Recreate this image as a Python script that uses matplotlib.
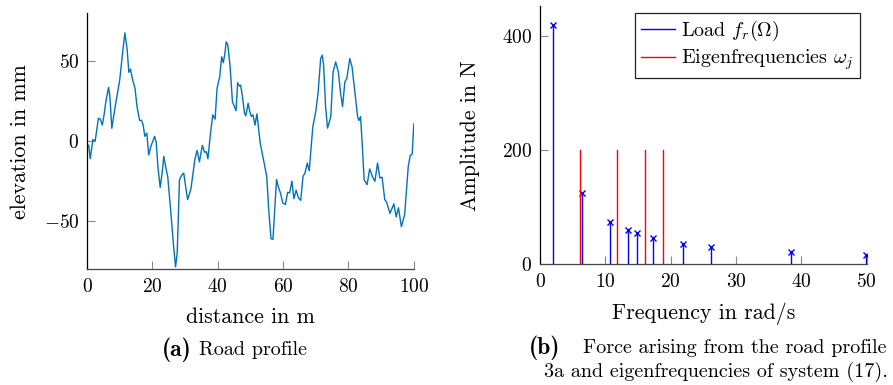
import matplotlib
matplotlib.use("Agg")
import matplotlib.pyplot as plt

plt.rcParams['font.family'] = 'serif'
plt.rcParams['font.serif'] = ['cmr10', 'DejaVu Serif']
plt.rcParams['mathtext.fontset'] = 'cm'
plt.rcParams['axes.formatter.use_mathtext'] = True
plt.rcParams['font.size'] = 11

# road profile (a)
distance = [0, 0.5, 1.0, 1.8, 2.5, 3.0, 3.5, 4.1, 4.7, 5.2, 5.8, 6.6, 7.0, 7.6, 8.2, 9.0,
            10.0, 11.0, 11.6, 12.3, 12.8, 13.3, 14.0, 14.7, 15.3, 16.1, 16.7, 17.2, 17.7,
            18.3, 18.9, 19.6, 20.7, 21.2, 21.7, 22.4, 23.1, 23.5, 24.2, 24.7, 25.5, 26.5,
            27.1, 27.6, 28.3, 29.1, 29.6, 30.3, 30.8, 31.8, 33.0, 33.7, 34.4, 35.3, 36.0,
            36.5, 37.0, 37.8, 38.5, 39.2, 39.8, 40.6, 41.2, 41.7, 42.2, 42.6, 43.1, 43.8,
            44.5, 45.1, 45.6, 46.1, 46.6, 47.0, 47.5, 48.2, 48.6, 49.3, 49.8, 50.3, 50.8,
            51.4, 52.0, 53.0, 54.0, 55.0, 55.6, 56.3, 56.9, 57.4, 58.0, 58.6, 59.2, 59.9,
            60.7, 61.4, 62.0, 62.7, 63.3, 64.0, 64.7, 65.4, 66.1, 66.7, 67.4, 68.0, 69.1,
            70.0, 70.7, 71.5, 72.0, 72.4, 73.0, 73.6, 74.6, 75.3, 76.1, 76.9, 77.6, 78.2,
            78.9, 79.5, 80.4, 81.1, 82.0, 82.8, 83.2, 83.7, 84.2, 84.8, 85.7, 86.5, 87.3,
            88.1, 88.9, 89.6, 90.3, 91.1, 91.7, 92.7, 93.9, 94.6, 95.3, 96.2, 97.2, 98.3,
            98.9, 99.5, 100.0]
elevation = [-4, -2.5, -11, 1, 0, 7, 14.3, 13.7, 10, 16, 25, 33.6, 28, 8, 16, 26,
             38, 57, 67.6, 57, 43, 45, 38, 33, 21.6, 12.9, 13, 10, 3,
             5, -8.7, -3, 3, -1, -16, -29, -18, -9.5, -17.4, -22, -40.7, -65.6,
             -78.6, -70, -24, -21, -20, -30, -36.5, -30, -11.6, -5.8, -13, -2.7, -7,
             -6.6, -11, 5, 16.4, 13.7, 33, 40, 52.7, 49, 54.8, 62, 60, 46.5,
             24.7, 21.6, 19, 36.5, 34.4, 35, 28.8, 17.4, 15.8, 23.7, 18.5, 15.4, 16.4,
             10, 17, -1.2, -11.6, -22, -42.7, -61, -61.4, -44.8, -24, -29, -32.4, -38.6,
             -39.6, -32, -32.4, -25, -36, -30.7, -35.5, -37, -22, -20, -13.7, -18.5, 9,
             18.5, 30, 51.7, 53.7, 47.5, 21.6, 8.1, 15.3, 43.3, 49.5, 43.3, 29.9, 21.5,
             37, 39.1, 51.6, 46.4, 29.9, 15.3, 12.8, 15.3, -1.2, -24.1, -27.2, -17.4, -22,
             -25.1, -13.7, -23, -22.6, -36.5, -38.2, -45.2, -39.2, -47.3, -41.7, -53.5, -45.9, -15.8,
             -9, -8.1, 10.8]

# spectrum (b)
load_freq = [1.94, 6.48, 10.77, 13.42, 14.85, 17.30, 21.94, 26.12, 38.47, 49.85]
load_amp = [418.7, 124.2, 74.6, 60.1, 54.2, 46.1, 36.2, 30.9, 21.0, 15.7]
eig_freq = [6.17, 11.73, 16.02, 18.78]
eig_amp = [200, 200, 200, 200]

LABEL_FS = 15.8
TICK_FS = 14
CAP_FS = 14.5


def style_axis(ax):
    ax.spines['top'].set_visible(False)
    ax.spines['right'].set_visible(False)
    ax.spines['left'].set_linewidth(0.9)
    ax.spines['bottom'].set_linewidth(0.9)
    ax.spines['bottom'].set_color('#444444')
    ax.tick_params(direction='in', length=5.5, width=0.8, color='#888888',
                   labelsize=TICK_FS)
    ax.tick_params(axis='y', pad=5.5)
    ax.tick_params(axis='x', pad=6.5)


fig = plt.figure(figsize=(8.93, 3.85), dpi=100)

ax1 = fig.add_axes([0.0974, 0.301, 0.366, 0.665])
ax1.plot(distance, elevation, color='#0072BD', linewidth=1.0)
ax1.set_xlim(0, 100)
ax1.set_ylim(-80, 80)
ax1.set_xticks([0, 20, 40, 60, 80, 100])
ax1.set_yticks([-50, 0, 50])
ax1.set_xlabel('distance in m', fontsize=LABEL_FS, labelpad=8)
ax1.set_ylabel('elevation in mm', fontsize=LABEL_FS, labelpad=10)
style_axis(ax1)

ax2 = fig.add_axes([0.6047, 0.3135, 0.366, 0.670])
for f, a in zip(load_freq, load_amp):
    ax2.plot([f, f], [0, a], color='#0000ff', linewidth=1.0)
ax2.plot(load_freq, load_amp, linestyle='none', marker='x', color='#0000ff',
         markersize=5, markeredgewidth=1.0)
for f, a in zip(eig_freq, eig_amp):
    ax2.plot([f, f], [0, a], color='#ff0000', linewidth=1.0)
ax2.plot([], [], color='#0000ff', linewidth=1.0, label=r'Load $f_r(\Omega)$')
ax2.plot([], [], color='#ff0000', linewidth=1.0, label=r'Eigenfrequencies $\omega_j$')
ax2.set_xlim(0, 50)
ax2.set_ylim(0, 452)
ax2.set_xticks([0, 10, 20, 30, 40, 50])
ax2.set_yticks([0, 200, 400])
ax2.set_xlabel('Frequency in rad/s', fontsize=LABEL_FS, labelpad=8)
ax2.set_ylabel('Amplitude in N', fontsize=LABEL_FS, labelpad=16)
style_axis(ax2)
leg = ax2.legend(loc='upper right', fontsize=14.5, frameon=True, fancybox=False,
                 edgecolor='#222222', framealpha=1, handlelength=1.7,
                 borderpad=0.3, labelspacing=0.2, handletextpad=0.3,
                 borderaxespad=0, bbox_to_anchor=(0.979, 0.973))
leg.get_frame().set_linewidth(0.9)

# captions
fig.text(161.7 / 893, 1 - 350 / 385, '(a)', fontsize=17, family='cmb10',
         ha='left', va='center')
fig.text(199.3 / 893, 1 - 350 / 385, 'Road profile', fontsize=CAP_FS,
         ha='left', va='center')
fig.text(529 / 893, 1 - 348 / 385, '(b)', fontsize=17, family='cmb10',
         ha='left', va='center')
fig.text(735 / 893, 1 - 348 / 385, 'Force arising from the road profile',
         fontsize=CAP_FS, ha='center', va='center')
fig.text(544 / 893, 1 - 372 / 385, '3a and eigenfrequencies of system (17).',
         fontsize=CAP_FS, ha='left', va='center')

fig.savefig('out.png', dpi=100, facecolor='white')
